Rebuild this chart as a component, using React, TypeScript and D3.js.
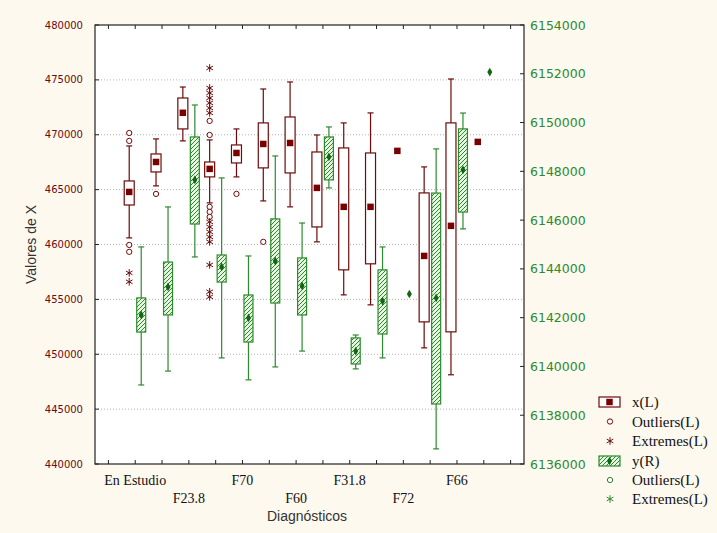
import React from "react";
import * as d3 from "d3";

// 14 groups, only every other one carries a label
const categories = ["En Estudio", "", "F23.8", "", "F70", "", "F60", "", "F31.8", "", "F72", "", "F66", ""];

// x (left axis)
const xHigh = [468980, 469620, 474350, 469530, 470530, 474170, 474810, 469980, 471080, 471990, null, 467070, 475080, null];
const xQ3 = [465790, 468250, 473350, 467520, 469070, 471080, 471620, 468430, 468800, 468340, null, 464700, 471080, null];
const xMedian = [464790, 467520, 472000, 466890, 468340, 469160, 469250, 465160, 463430, 463430, 468530, 458960, 461700, 469350];
const xQ1 = [463600, 466610, 470530, 466160, 467430, 466980, 466520, 461600, 457690, 458240, null, 452950, 452040, null];
const xLow = [460600, 465340, 469440, 463790, 466160, 463970, 463430, 460240, 455410, 454500, null, 450580, 448130, null];
const xOutliers = [
  [470160, 469440, 459960, 459330], [464610], [],
  [471260, 469980, 463430, 462970, 462510],
  [464610], [460240], [], [], [], [], [], [], [], [],
];
const xExtremes = [
  [457410, 456600], [], [],
  [476080, 474260, 473810, 473350, 472900, 472440, 471990, 462060, 461600, 461150, 460690, 460240, 458140, 455690, 455230],
  [], [], [], [], [], [], [], [], [], [],
];

// y (right axis)
const yHigh = [6144900, 6146540, 6150720, 6147730, 6144530, 6148630, 6145880, 6149820, 6141290, 6144900, null, 6148920, 6150390, null];
const yQ3 = [6142810, 6144280, 6149410, 6144570, 6142930, 6146050, 6144450, 6149410, 6141170, 6143960, null, 6147110, 6149740, null];
const yMedian = [6142110, 6143260, 6147650, 6144080, 6141990, 6144320, 6143300, 6148590, 6140630, 6142680, 6142970, 6142810, 6148060, 6152070];
const yQ1 = [6141410, 6142110, 6145840, 6143460, 6141000, 6142600, 6142110, 6147650, 6140100, 6141330, null, 6138460, 6146330, null];
const yLow = [6139240, 6139810, 6144490, 6140350, 6139450, 6139980, 6140630, 6147320, 6139900, 6140350, null, 6136620, 6145640, null];

const leftTicks = d3.range(440000, 480001, 5000);
const rightTicks = d3.range(6136000, 6154001, 2000);

const legendItems = ["x(L)", "Outliers(L)", "Extremes(L)", "y(R)", "Outliers(L)", "Extremes(L)"];

const RED = "#6e0a0a";
const RED_FILL = "#7a0000";
const GREEN = "#2d8a2d";
const GREEN_DARK = "#116611";
const BG = "#fdf9ef";

const W = 717, H = 533;
const m = { left: 95, right: 524, top: 25, bottom: 464 };

export default function App() {
  const x = d3.scalePoint<number>().domain(d3.range(categories.length)).range([m.left, m.right]).padding(1.5);
  const step = x.step();
  const yL = d3.scaleLinear().domain([440000, 480000]).range([m.bottom, m.top]);
  const yR = d3.scaleLinear().domain([6136000, 6154000]).range([m.bottom, m.top]);
  const xTicks = [x(0)! - step, ...d3.range(categories.length).map((i) => x(i)!), x(categories.length - 1)! + step];

  const circle = d3.symbol(d3.symbolCircle, 22)()!;
  const aster = d3.symbol(d3.symbolAsterisk, 40)()!;
  const square = d3.symbol(d3.symbolSquare, 42)()!;
  const diamond = d3.symbol(d3.symbolDiamond, 22)()!;

  const box = (
    cx: number, hi: number | null, q3: number | null, med: number, q1: number | null, lo: number | null,
    sc: d3.ScaleLinear<number, number>, green: boolean, key: string
  ) => {
    const stroke = green ? GREEN : RED;
    const bw = green ? 9 : 10;
    return (
      <g key={key}>
        {hi != null && lo != null && (
          <g stroke={stroke} strokeWidth={1.2}>
            <line x1={cx} x2={cx} y1={sc(hi)} y2={sc(lo)} />
            <line x1={cx - 3} x2={cx + 3} y1={sc(hi)} y2={sc(hi)} />
            <line x1={cx - 3} x2={cx + 3} y1={sc(lo)} y2={sc(lo)} />
          </g>
        )}
        {q3 != null && q1 != null && (
          <rect x={cx - bw / 2} y={sc(q3)} width={bw} height={sc(q1) - sc(q3)}
            fill={green ? "url(#hatch)" : "#fff"} stroke={stroke} strokeWidth={1.2} />
        )}
        <path d={green ? diamond : square} transform={`translate(${cx},${sc(med)})`} fill={green ? GREEN_DARK : RED_FILL} />
      </g>
    );
  };

  const legendY = [402, 421.5, 441, 461, 480, 499];

  return (
    <svg width={W} height={H} style={{ position: "absolute", left: 0, top: 0 }}>
      <defs>
        <pattern id="hatch" width={4} height={4} patternUnits="userSpaceOnUse">
          <rect width={4} height={4} fill="#eaf6e4" />
          <path d="M-1,1 l2,-2 M0,4 l4,-4 M3,5 l2,-2" stroke={GREEN} strokeWidth={1} />
        </pattern>
      </defs>
      <rect width={W} height={H} fill={BG} />
      <rect x={m.left} y={m.top} width={m.right - m.left} height={m.bottom - m.top} fill="#fff" />

      {/* grid */}
      {leftTicks.slice(1, -1).map((t) => (
        <line key={t} x1={m.left} x2={m.right} y1={yL(t)} y2={yL(t)} stroke="#b5b5b5" strokeDasharray="1,2" />
      ))}

      {/* boxes */}
      {categories.map((_, i) => box(x(i)! - 6, xHigh[i], xQ3[i], xMedian[i], xQ1[i], xLow[i], yL, false, "x" + i))}
      {categories.map((_, i) => box(x(i)! + 6, yHigh[i], yQ3[i], yMedian[i], yQ1[i], yLow[i], yR, true, "y" + i))}

      {/* outliers and extremes */}
      {xOutliers.map((vals, i) => vals.map((v, j) => (
        <path key={`o${i}-${j}`} d={circle} transform={`translate(${x(i)! - 6},${yL(v)})`} fill="#fff" stroke={RED} strokeWidth={1} />
      )))}
      {xExtremes.map((vals, i) => vals.map((v, j) => (
        <path key={`e${i}-${j}`} d={aster} transform={`translate(${x(i)! - 6},${yL(v)})`} fill="none" stroke={RED} strokeWidth={1} />
      )))}

      {/* frame and ticks */}
      <rect x={m.left} y={m.top} width={m.right - m.left} height={m.bottom - m.top} fill="none" stroke="#222" strokeWidth={1.2} />
      {xTicks.map((t, i) => (
        <g key={i} stroke="#222">
          <line x1={t} x2={t} y1={m.bottom} y2={m.bottom - 4} />
          <line x1={t} x2={t} y1={m.top} y2={m.top + 4} />
        </g>
      ))}
      {leftTicks.map((t) => (
        <g key={t}>
          <line x1={m.left} x2={m.left + 4} y1={yL(t)} y2={yL(t)} stroke="#222" />
          <text x={83} y={yL(t)} dy="0.36em" textAnchor="end" fontFamily="DejaVu Sans" fontSize={10} fill={RED}>{t}</text>
        </g>
      ))}
      {rightTicks.map((t) => (
        <g key={t}>
          <line x1={m.right} x2={m.right - 4} y1={yR(t)} y2={yR(t)} stroke="#222" />
          <text x={530} y={yR(t)} dy="0.36em" fontFamily="DejaVu Sans" fontSize={12.5} fill={GREEN}>{t}</text>
        </g>
      ))}
      {categories.map((c, i) => c && (
        <text key={"c" + i} x={x(i)} y={(i / 2) % 2 === 0 ? 485 : 503} textAnchor="middle"
          fontFamily="Liberation Serif" fontSize={14} fill="#111">{c}</text>
      ))}

      <text transform={`translate(36,${(m.top + m.bottom) / 2}) rotate(-90)`} textAnchor="middle"
        fontFamily="Liberation Sans" fontSize={14} fill="#333">Valores de X</text>
      <text x={307} y={521} textAnchor="middle" fontFamily="Liberation Sans" fontSize={14} fill="#333">Diagnósticos</text>

      {/* legend */}
      <g>
        <rect x={599} y={397} width={21} height={10} fill="#fff" stroke={RED} strokeWidth={1.2} />
        <path d={square} transform={`translate(609.5,402)`} fill={RED_FILL} />
        <path d={circle} transform={`translate(610,${legendY[1]})`} fill="#fff" stroke={RED} />
        <path d={aster} transform={`translate(610,${legendY[2]})`} fill="none" stroke={RED} />
        <rect x={599} y={456} width={21} height={10} fill="url(#hatch)" stroke={GREEN} strokeWidth={1.2} />
        <path d={diamond} transform={`translate(609.5,461)`} fill={GREEN_DARK} />
        <path d={circle} transform={`translate(610,${legendY[4]})`} fill="#fff" stroke={GREEN} />
        <path d={aster} transform={`translate(610,${legendY[5]})`} fill="none" stroke={GREEN} />
        {legendItems.map((t, i) => (
          <text key={i} x={632} y={legendY[i]} dy="0.35em" fontFamily="Liberation Serif" fontSize={15} fill="#111">{t}</text>
        ))}
      </g>
    </svg>
  );
}
